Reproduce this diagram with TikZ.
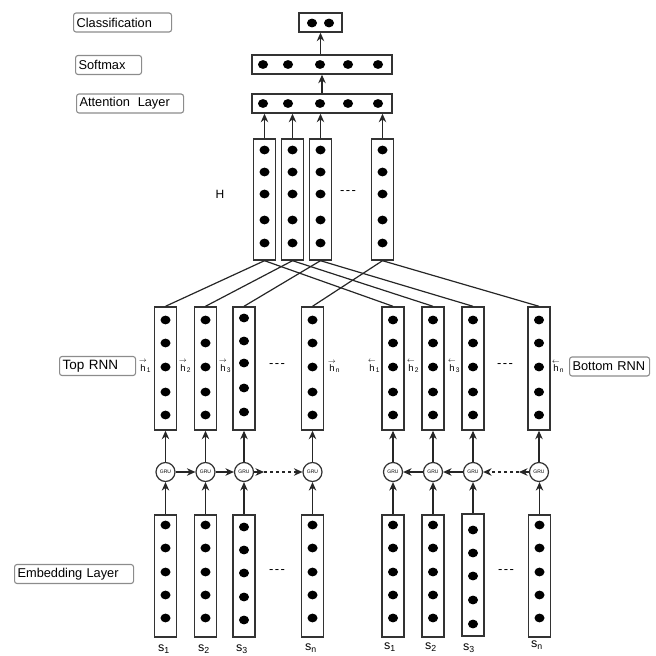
\documentclass[tikz,border=0pt]{standalone}
\usepackage{amsmath}
\usepackage{fontspec}
\setmainfont{Liberation Sans}
\setsansfont{Liberation Sans}
\usetikzlibrary{arrows.meta}

\tikzset{
  colbox/.style={draw=black!80, line width=1.4pt, minimum width=22pt, inner sep=0pt},
  rowbox/.style={draw=black!80, line width=1.4pt, minimum height=19pt, inner sep=0pt},
  tag/.style={draw=black!45, rounded corners=2.5pt, line width=1.1pt, anchor=west,
    minimum height=19pt, inner xsep=3pt, inner ysep=0pt, align=left,
    font=\fontsize{12.8}{14}\selectfont},
  gru/.style={circle, draw=black!80, line width=1.2pt, minimum size=19pt, inner sep=0pt,
    font=\fontsize{5}{5}\selectfont},
  link/.style={line width=1.2pt, draw=black!85},
  arr/.style={link, -{Stealth[length=8.5pt,width=7.5pt]}},
  hlab/.style={font=\fontsize{9.5}{10}\selectfont, inner sep=0pt},
  gap/.style={font=\fontsize{13}{14}\selectfont, inner sep=0pt},
  slab/.style={font=\fontsize{12.5}{13}\selectfont, inner sep=0pt},
  hdr/.style={font=\fontsize{12}{13}\selectfont, inner sep=0pt},
  dotshape/.style={x radius=5pt, y radius=4.4pt},
}

% vertical layer column: name, x centre, top y, bottom y, dot positions
\newcommand{\layercol}[5]{%
  \node[colbox, minimum height={#4-#3}] (#1) at (#2,{(#3+#4)/2}) {};
  \foreach \yy in {#5} \fill (#2,\yy) ellipse [dotshape];
}
\newcommand{\hright}[1]{$\overset{\scriptstyle\rightarrow}{\mathsf{h}}_{\mathsf{#1}}$}
\newcommand{\hleft}[1]{$\overset{\scriptstyle\leftarrow}{\mathsf{h}}_{\mathsf{#1}}$}
\newcommand{\threedash}{-\kern1.5pt-\kern1.5pt-}

\begin{document}
\begin{tikzpicture}[x=1pt, y=-1pt]
\useasboundingbox (0,0) rectangle (656,656);

% ---- side labels ----
\node[tag, text width=92pt] (lcls) at (73,22.5) {Classification};
\node[tag, text width=60pt] (lsmx) at (75,65) {Softmax};
\node[tag, text width=101pt] (latt) at (76,103.5) {Attention\hspace{0.6em}Layer};
\node[tag, text width=70pt, font=\fontsize{13.5}{14}\selectfont] (ltop) at (59,366) {Top RNN};
\node[tag, text width=74pt] (lbot) at (569,366.5) {Bottom RNN};
\node[tag, text width=113pt] (lemb) at (14,574) {Embedding Layer};

% ---- output rows ----
\node[rowbox, minimum width=43pt] (cls) at (320.5,22.5) {};
\foreach \xx in {312,329} \fill (\xx,23) ellipse [dotshape];
\node[rowbox, minimum width=140pt] (smx) at (322,64.5) {};
\foreach \xx in {263,288,320,348,378} \fill (\xx,64.5) ellipse [dotshape];
\node[rowbox, minimum width=140pt] (att) at (322,103.5) {};
\foreach \xx in {263,288,320,348,378} \fill (\xx,103.5) ellipse [dotshape];

\draw[arr] (smx.north -| cls.south) -- (cls.south);
\draw[arr] (att.north) -- (smx.south);

% ---- H columns ----
\layercol{H1}{264.5}{139}{260}{150,172,194,220,243}
\layercol{H2}{292.5}{139}{260}{150,172,194,220,243}
\layercol{H3}{320.5}{139}{260}{150,172,194,220,243}
\layercol{H4}{382.5}{139}{260}{150,172,194,220,243}
\node[hdr] (hname) at (220,194) {H};
\node[gap] (hgap) at (348,193) {\threedash};
\foreach \i in {1,...,4} \draw[arr] (H\i.north) -- (H\i.north |- att.south);

% ---- RNN columns ----
\layercol{T1}{165.5}{307}{430}{320,343,367,392,415}
\layercol{T2}{205.5}{307}{430}{320,343,367,392,415}
\layercol{T3}{244}{307}{430}{318,341,363,388,412}
\layercol{T4}{312.5}{307}{430}{320,343,367,392,415}
\layercol{B1}{393}{307}{430}{320,343,367,392,415}
\layercol{B2}{433}{307}{430}{320,343,367,392,415}
\layercol{B3}{473}{307}{430}{320,343,367,392,415}
\layercol{B4}{539}{307}{430}{320,343,367,392,415}
\node[gap] (tgap) at (277,366) {\threedash};
\node[gap] (bgap) at (505,366) {\threedash};

\foreach \i in {1,...,4} {
  \draw[link] (H\i.south) -- (T\i.north);
  \draw[link] (H\i.south) -- (B\i.north);
}

% hidden state labels
\node[hlab] (th1) at (145,366) {\hright{1}};
\node[hlab] (th2) at (185,366) {\hright{2}};
\node[hlab] (th3) at (225,366) {\hright{3}};
\node[hlab] (thn) at (334,366) {\hright{n}};
\node[hlab] (bh1) at (374,366) {\hleft{1}};
\node[hlab] (bh2) at (413,366) {\hleft{2}};
\node[hlab] (bh3) at (454,366) {\hleft{3}};
\node[hlab] (bhn) at (558,366) {\hleft{n}};

% ---- GRU cells ----
\node[gru] (gl1) at (165.5,472) {GRU};
\node[gru] (gl2) at (205.5,472) {GRU};
\node[gru] (gl3) at (244,472) {GRU};
\node[gru] (gl4) at (312.5,472) {GRU};
\node[gru] (gr1) at (393,472) {GRU};
\node[gru] (gr2) at (433,472) {GRU};
\node[gru] (gr3) at (473,472) {GRU};
\node[gru] (gr4) at (539,472) {GRU};

\draw[arr] (gl1) -- (gl2);
\draw[arr] (gl2) -- (gl3);
\coordinate (gl3s) at (264,472);
\draw[arr] (gl3.east) -- (gl3s);
\draw[arr, dashed] (gl3s) -- (gl4.west);

\draw[arr] (gr2) -- (gr1);
\draw[arr] (gr3) -- (gr2);
\coordinate (gr4s) at (519,472);
\draw[arr] (gr4.west) -- (gr4s);
\draw[arr, dashed] (gr4s) -- (gr3.east);

\foreach \i in {1,...,4} {
  \draw[arr] (gl\i.north) -- (gl\i.north |- T\i.south);
  \draw[arr] (gr\i.north) -- (gr\i.north |- B\i.south);
}

% ---- embedding columns ----
\layercol{EL1}{165.5}{515}{637}{525,548,572,595,618}
\layercol{EL2}{205.5}{515}{637}{525,548,572,595,618}
\layercol{EL3}{244}{515}{637}{527,550,573,597,620}
\layercol{EL4}{312.5}{515}{637}{525,548,572,595,618}
\layercol{ER1}{393}{515}{637}{525,548,572,595,618}
\layercol{ER2}{433}{515}{637}{525,548,572,595,618}
\layercol{ER3}{473}{514}{636}{530,553,576,600,624}
\layercol{ER4}{539.5}{515}{637}{525,548,572,595,618}
\node[gap] (elgap) at (277,572) {\threedash};
\node[gap] (ergap) at (506,572) {\threedash};

\foreach \i in {1,...,4} {
  \draw[arr] (EL\i.north) -- (EL\i.north |- gl\i.south);
  \draw[arr] (ER\i.north) -- (ER\i.north |- gr\i.south);
}

% token labels
\node[slab] (sl1) at (164,649) {$\mathsf{s}_{\mathsf{1}}$};
\node[slab] (sl2) at (204,649) {$\mathsf{s}_{\mathsf{2}}$};
\node[slab] (sl3) at (242,649) {$\mathsf{s}_{\mathsf{3}}$};
\node[slab] (sln) at (311,648) {$\mathsf{s}_{\mathsf{n}}$};
\node[slab] (sr1) at (390,647) {$\mathsf{s}_{\mathsf{1}}$};
\node[slab] (sr2) at (431,647) {$\mathsf{s}_{\mathsf{2}}$};
\node[slab] (sr3) at (469,648) {$\mathsf{s}_{\mathsf{3}}$};
\node[slab] (srn) at (537,645) {$\mathsf{s}_{\mathsf{n}}$};
\end{tikzpicture}
\end{document}
